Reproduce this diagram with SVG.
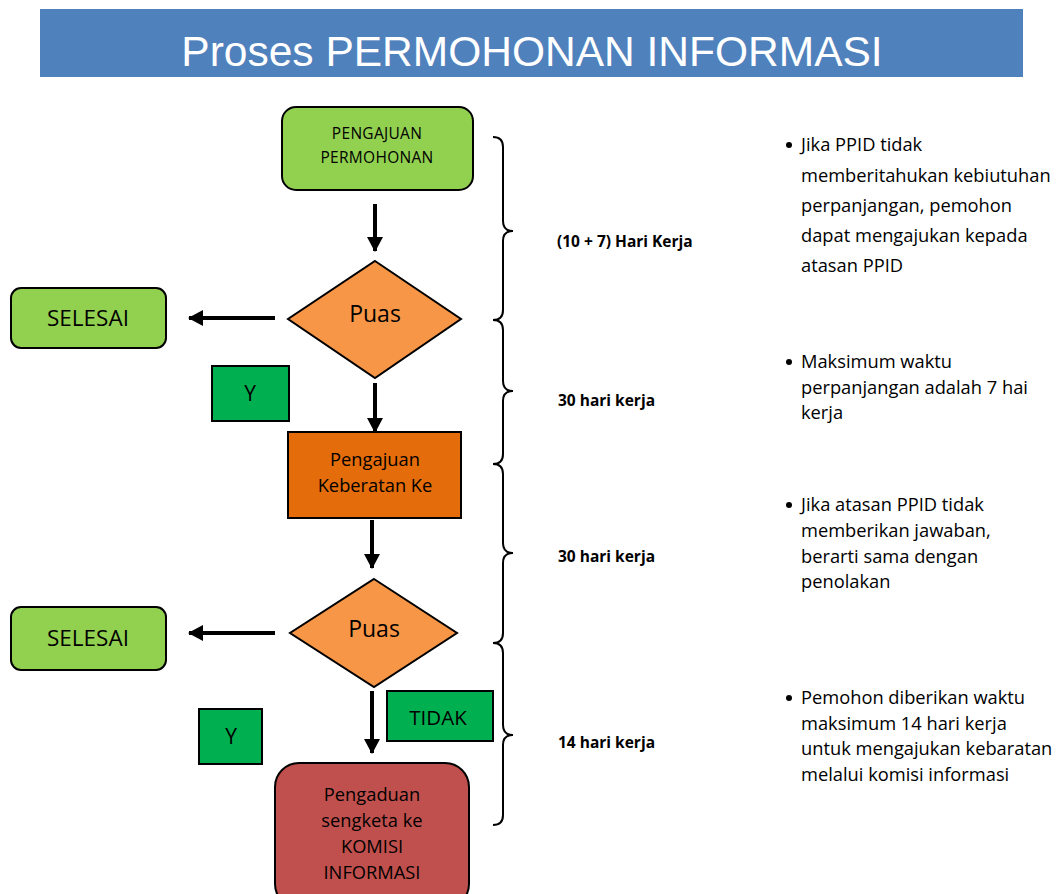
<svg xmlns="http://www.w3.org/2000/svg" width="1060" height="894" viewBox="0 0 1060 894">
<defs>
<marker id="ah" markerUnits="userSpaceOnUse" markerWidth="16" markerHeight="16" viewBox="0 0 16 16" refX="14" refY="8" orient="auto">
<path d="M0,0 L15,8 L0,16 Z" fill="#000"/>
</marker>
</defs>
<style>
.t{font-family:"Open Sans","Liberation Sans",sans-serif;fill:#000;text-anchor:middle}
.b{font-family:"Open Sans","Liberation Sans",sans-serif;fill:#000;font-weight:bold;font-size:15.5px}
.n{font-family:"Open Sans","Liberation Sans",sans-serif;fill:#000;font-size:18.3px}
.nd{stroke:#000;stroke-width:2}
.c{stroke:#000;stroke-width:4;fill:none;marker-end:url(#ah)}
.br{stroke:#000;stroke-width:2;fill:none}
</style>
<rect width="1060" height="894" fill="#fff"/>
<g id="title">
<rect x="40" y="9" width="983" height="68" fill="#4F81BD"/>
<text x="532" y="66" font-family="'Liberation Sans',Arial,sans-serif" font-size="42.5" fill="#fff" text-anchor="middle">Proses PERMOHONAN INFORMASI</text>
</g>
<g id="connectors">
<line class="c" x1="375" y1="204" x2="375" y2="251"/>
<line class="c" x1="275" y1="318" x2="189" y2="318"/>
<line class="c" x1="375" y1="383" x2="375" y2="432"/>
<line class="c" x1="372" y1="520" x2="372" y2="568"/>
<line class="c" x1="275" y1="633" x2="189" y2="633"/>
<line class="c" x1="372" y1="691" x2="372" y2="753"/>
</g>
<g id="n-pengajuan">
<rect class="nd" x="282" y="107" width="191" height="83" rx="14" fill="#92D050"/>
<text class="t" x="377" y="139" font-size="15.5" letter-spacing="0.3">PENGAJUAN</text>
<text class="t" x="377" y="163" font-size="15.5" letter-spacing="0.3">PERMOHONAN</text>
</g>
<g id="n-puas1">
<polygon class="nd" points="375,261 461,319 375,378 288,319" fill="#F79646"/>
<text class="t" x="375" y="322" font-size="23">Puas</text>
</g>
<g id="n-selesai1">
<rect class="nd" x="11" y="288" width="155" height="60" rx="10" fill="#92D050"/>
<text class="t" x="88" y="326" font-size="22.5">SELESAI</text>
</g>
<g id="n-y1">
<rect class="nd" x="212" y="366" width="77" height="55" fill="#00B050"/>
<text class="t" x="250" y="401" font-size="21">Y</text>
</g>
<g id="n-keberatan">
<rect class="nd" x="288" y="432" width="173" height="86" fill="#E46C0A"/>
<text class="t" x="375" y="466" font-size="18.3">Pengajuan</text>
<text class="t" x="375" y="492" font-size="18.3">Keberatan Ke</text>
</g>
<g id="n-puas2">
<polygon class="nd" points="374,579 457,633 374,687 290,633" fill="#F79646"/>
<text class="t" x="374" y="637" font-size="23">Puas</text>
</g>
<g id="n-selesai2">
<rect class="nd" x="11" y="607" width="155" height="63" rx="10" fill="#92D050"/>
<text class="t" x="88" y="646" font-size="22.5">SELESAI</text>
</g>
<g id="n-y2">
<rect class="nd" x="199" y="709" width="63" height="55" fill="#00B050"/>
<text class="t" x="231" y="744" font-size="21">Y</text>
</g>
<g id="n-tidak">
<rect class="nd" x="387" y="691" width="106" height="50" fill="#00B050"/>
<text class="t" x="438" y="725" font-size="20.5">TIDAK</text>
</g>
<g id="n-pengaduan">
<rect class="nd" x="275" y="763" width="194" height="145" rx="24" fill="#C0504D"/>
<text class="t" x="372" y="801" font-size="18.3">Pengaduan</text>
<text class="t" x="372" y="827" font-size="18.3">sengketa ke</text>
<text class="t" x="372" y="853" font-size="18.3">KOMISI</text>
<text class="t" x="372" y="879" font-size="18.3">INFORMASI</text>
</g>
<g id="braces">
<path class="br" d="M493,137 Q503,137 503,147 L503,221 Q503,231 513,231 Q503,231 503,241 L503,310 Q503,320 493,320"/>
<path class="br" d="M493,320 Q503,320 503,330 L503,381 Q503,391 513,391 Q503,391 503,401 L503,454 Q503,464 493,464"/>
<path class="br" d="M493,464 Q503,464 503,474 L503,543 Q503,553 513,553 Q503,553 503,563 L503,633 Q503,643 493,643"/>
<path class="br" d="M493,643 Q503,643 503,653 L503,725 Q503,735 513,735 Q503,735 503,745 L503,815 Q503,825 493,825"/>
</g>
<g id="durations">
<text class="b" x="557" y="247">(10 + 7) Hari Kerja</text>
<text class="b" x="558" y="406">30 hari kerja</text>
<text class="b" x="558" y="562">30 hari kerja</text>
<text class="b" x="558" y="748">14 hari kerja</text>
</g>
<g id="notes">
<circle cx="789" cy="145" r="3"/>
<text class="n" x="801" y="151">Jika PPID tidak</text>
<text class="n" x="801" y="182">memberitahukan kebiutuhan</text>
<text class="n" x="801" y="212">perpanjangan, pemohon</text>
<text class="n" x="801" y="242">dapat mengajukan kepada</text>
<text class="n" x="801" y="272">atasan PPID</text>
<circle cx="789" cy="362" r="3"/>
<text class="n" x="801" y="368">Maksimum waktu</text>
<text class="n" x="801" y="394">perpanjangan adalah 7 hai</text>
<text class="n" x="801" y="419">kerja</text>
<circle cx="789" cy="505" r="3"/>
<text class="n" x="801" y="511">Jika atasan PPID tidak</text>
<text class="n" x="801" y="537">memberikan jawaban,</text>
<text class="n" x="801" y="563">berarti sama dengan</text>
<text class="n" x="801" y="588">penolakan</text>
<circle cx="789" cy="698" r="3"/>
<text class="n" x="801" y="704">Pemohon diberikan waktu</text>
<text class="n" x="801" y="730">maksimum 14 hari kerja</text>
<text class="n" x="801" y="755">untuk mengajukan kebaratan</text>
<text class="n" x="801" y="781">melalui komisi informasi</text>
</g>
</svg>
